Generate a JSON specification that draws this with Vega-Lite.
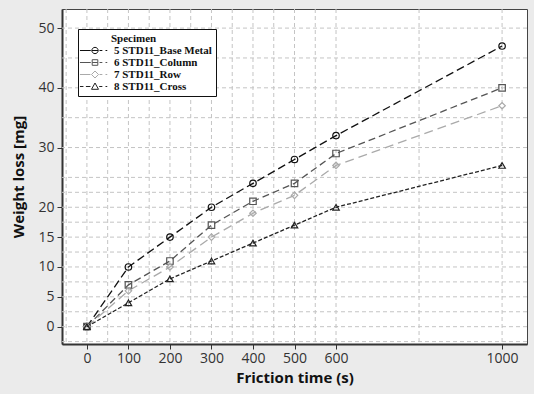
{
  "$schema": "https://vega.github.io/schema/vega-lite/v6.json",
  "autosize": {"type": "none"},
  "width": 465,
  "height": 335,
  "padding": {"left": 62, "top": 9, "right": 7, "bottom": 50},
  "background": "#ebebeb",
  "config": {
    "view": {"stroke": "#444444", "strokeWidth": 1, "fill": "white"},
    "axis": {
      "labelFont": "Open Sans", "labelFontSize": 14, "labelColor": "#333333",
      "titleFont": "Open Sans", "titleFontSize": 15, "titleFontWeight": "bold", "titleColor": "#111111",
      "domainColor": "#333333", "domainWidth": 2, "tickColor": "#333333", "tickSize": 5, "grid": false
    },
    "legend": {
      "padding": 4, "strokeColor": "#111111", "fillColor": "white",
      "titleFont": "Liberation Serif", "titleFontSize": 11, "titleFontWeight": "bold", "titleColor": "#111111", "titlePadding": 1,
      "labelFont": "Liberation Serif", "labelFontSize": 11, "labelFontWeight": "bold", "labelColor": "#111111",
      "symbolSize": 49, "labelOffset": 21, "rowPadding": 0
    }
  },
  "datasets": {
    "gx": [{"v": -50}, {"v": 0}, {"v": 50}, {"v": 100}, {"v": 150}, {"v": 200}, {"v": 250}, {"v": 300}, {"v": 350}, {"v": 400}, {"v": 450}, {"v": 500}, {"v": 550}, {"v": 600}, {"v": 800}, {"v": 1000}],
    "gy": [{"v": -2.5}, {"v": 0}, {"v": 2.5}, {"v": 5}, {"v": 7.5}, {"v": 10}, {"v": 12.5}, {"v": 15}, {"v": 17.5}, {"v": 20}, {"v": 22.5}, {"v": 25}, {"v": 30}, {"v": 35}, {"v": 40}, {"v": 45}, {"v": 50}],
    "d": [
      {"s": "5 STD11_Base Metal", "t": 0, "w": 0}, {"s": "5 STD11_Base Metal", "t": 100, "w": 10}, {"s": "5 STD11_Base Metal", "t": 200, "w": 15}, {"s": "5 STD11_Base Metal", "t": 300, "w": 20}, {"s": "5 STD11_Base Metal", "t": 400, "w": 24}, {"s": "5 STD11_Base Metal", "t": 500, "w": 28}, {"s": "5 STD11_Base Metal", "t": 600, "w": 32}, {"s": "5 STD11_Base Metal", "t": 1000, "w": 47},
      {"s": "6 STD11_Column", "t": 0, "w": 0}, {"s": "6 STD11_Column", "t": 100, "w": 7}, {"s": "6 STD11_Column", "t": 200, "w": 11}, {"s": "6 STD11_Column", "t": 300, "w": 17}, {"s": "6 STD11_Column", "t": 400, "w": 21}, {"s": "6 STD11_Column", "t": 500, "w": 24}, {"s": "6 STD11_Column", "t": 600, "w": 29}, {"s": "6 STD11_Column", "t": 1000, "w": 40},
      {"s": "7 STD11_Row", "t": 0, "w": 0}, {"s": "7 STD11_Row", "t": 100, "w": 6}, {"s": "7 STD11_Row", "t": 200, "w": 10}, {"s": "7 STD11_Row", "t": 300, "w": 15}, {"s": "7 STD11_Row", "t": 400, "w": 19}, {"s": "7 STD11_Row", "t": 500, "w": 22}, {"s": "7 STD11_Row", "t": 600, "w": 27}, {"s": "7 STD11_Row", "t": 1000, "w": 37},
      {"s": "8 STD11_Cross", "t": 0, "w": 0}, {"s": "8 STD11_Cross", "t": 100, "w": 4}, {"s": "8 STD11_Cross", "t": 200, "w": 8}, {"s": "8 STD11_Cross", "t": 300, "w": 11}, {"s": "8 STD11_Cross", "t": 400, "w": 14}, {"s": "8 STD11_Cross", "t": 500, "w": 17}, {"s": "8 STD11_Cross", "t": 600, "w": 20}, {"s": "8 STD11_Cross", "t": 1000, "w": 27}
    ]
  },
  "layer": [
    {
      "data": {"name": "gx"},
      "mark": {"type": "rule", "color": "#c4c4c4", "strokeDash": [4, 3], "strokeWidth": 1},
      "encoding": {"x": {"field": "v", "type": "quantitative", "scale": {"domain": [-60, 1060], "nice": false, "zero": false}}}
    },
    {
      "data": {"name": "gy"},
      "mark": {"type": "rule", "color": "#c4c4c4", "strokeDash": [4, 3], "strokeWidth": 1},
      "encoding": {"y": {"field": "v", "type": "quantitative", "scale": {"domain": [-2.9, 53.2], "nice": false, "zero": false}}}
    },
    {
      "data": {"name": "d"},
      "mark": {"type": "line", "strokeWidth": 1.3},
      "encoding": {
        "x": {"field": "t", "type": "quantitative", "title": "Friction time (s)", "axis": {"values": [0, 100, 200, 300, 400, 500, 600, 1000], "format": "d", "labelPadding": 2, "titlePadding": 5}},
        "y": {"field": "w", "type": "quantitative", "title": "Weight loss [mg]", "axis": {"values": [0, 5, 10, 15, 20, 30, 40, 50], "labelPadding": 3, "titlePadding": 11}},
        "stroke": {"field": "s", "type": "nominal", "scale": {"range": ["#111111", "#555555", "#aaaaaa", "#222222"]},
          "legend": {
            "title": "Specimen", "orient": "none", "legendX": 16, "legendY": 20,
            "encode": {
              "title": {"update": {"dx": {"value": 29}}},
              "symbols": {"update": {
                "x": {"value": 13},
                "strokeWidth": {"value": 1},
                "fill": {"value": "transparent"},
                "shape": {"signal": "datum.value === '5 STD11_Base Metal' ? 'M-4.3,0H-1.2M-0.9,0A0.9,0.9 0 1,0 0.9,0A0.9,0.9 0 1,0 -0.9,0ZM-0.9,0H0.9M1.3,0H2.1M3,0H3.5' : datum.value === '6 STD11_Column' ? 'M-4.3,0H-1.2M-0.8,-0.8H0.8V0.8H-0.8ZM-0.8,0H0.8M1.3,0H2.1M3,0H3.5' : datum.value === '7 STD11_Row' ? 'M-4.3,0H-1.3M0,-1L1,0L0,1L-1,0ZM1.3,0H2.1M3,0H3.5' : 'M-4.3,0H-3.3M-2.6,0H-1.3M0,-1L1,0.8H-1ZM1.2,0H2.1M3,0H3.5'"}
              }}
            }
          }
        },
        "strokeDash": {"field": "s", "type": "nominal", "scale": {"domain": ["5 STD11_Base Metal", "6 STD11_Column", "7 STD11_Row", "8 STD11_Cross"], "range": [[8, 4], [7, 4], [9, 5], [4, 2]]}, "legend": null}
      }
    },
    {
      "data": {"name": "d"},
      "mark": {"type": "point", "filled": false, "size": 42, "strokeWidth": 1.2, "opacity": 1},
      "encoding": {
        "x": {"field": "t", "type": "quantitative"},
        "y": {"field": "w", "type": "quantitative"},
        "stroke": {"field": "s", "type": "nominal"},
        "shape": {"field": "s", "type": "nominal", "scale": {"domain": ["5 STD11_Base Metal", "6 STD11_Column", "7 STD11_Row", "8 STD11_Cross"], "range": ["circle", "square", "diamond", "triangle-up"]}, "legend": null}
      }
    }
  ]
}
